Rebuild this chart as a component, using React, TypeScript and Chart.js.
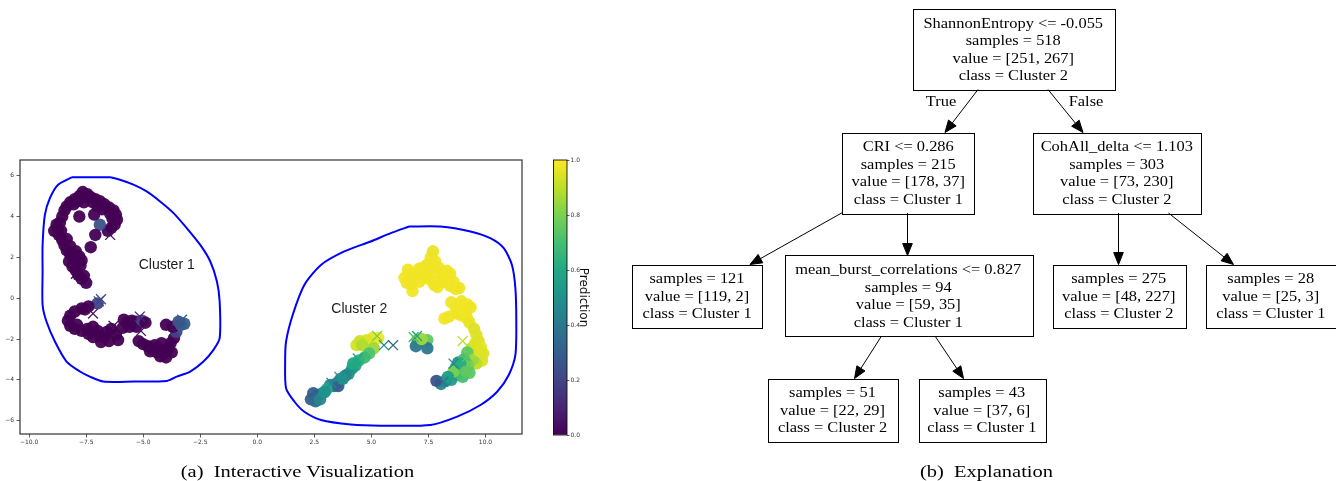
import React, { useEffect, useRef } from "react";
import { Chart, registerables } from "chart.js";
Chart.register(...registerables);

// ---------- scatter axes ----------
const X_TICKS = [-10, -7.5, -5, -2.5, 0, 2.5, 5, 7.5, 10];
const Y_TICKS = [-6, -4, -2, 0, 2, 4, 6];
const CB_TICKS = [0, 0.2, 0.4, 0.6, 0.8, 1.0];

// ---------- scatter data: [x, y, prediction] ----------
const CLUSTER1_CIRCLES = [
  [-8.2, 4.7, 0], [-8.0, 4.85, 0], [-7.8, 5.0, 0], [-7.65, 5.2, 0], [-7.45, 5.1, 0], [-7.3, 4.95, 0],
  [-7.1, 4.85, 0], [-6.9, 4.75, 0], [-6.7, 4.6, 0], [-6.5, 4.45, 0], [-6.3, 4.3, 0], [-6.2, 4.1, 0],
  [-6.15, 3.85, 0], [-6.25, 3.6, 0], [-6.4, 3.45, 0], [-6.55, 3.3, 0], [-7.6, 4.7, 0], [-7.0, 4.5, 0],
  [-8.35, 4.5, 0], [-8.05, 4.6, 0], [-7.9, 4.75, 0], [-7.55, 4.95, 0], [-7.2, 4.7, 0], [-6.8, 4.35, 0],
  [-6.45, 4.15, 0], [-6.35, 3.9, 0],
  [-6.9, 3.6, 0.25], [-7.8, 4.0, 0], [-7.15, 4.1, 0], [-7.1, 3.1, 0], [-7.3, 2.5, 0],
  [-8.45, 4.3, 0], [-8.55, 4.0, 0], [-8.65, 3.7, 0], [-8.75, 3.4, 0], [-8.9, 3.3, 0], [-8.7, 3.1, 0],
  [-8.8, 3.6, 0], [-8.6, 3.3, 0], [-8.35, 2.9, 0], [-8.2, 2.55, 0], [-7.95, 2.3, 0], [-8.05, 1.9, 0],
  [-7.75, 1.6, 0], [-7.6, 1.1, 0],
  [-8.55, 2.85, 0], [-8.45, 2.6, 0], [-8.35, 2.35, 0], [-8.2, 2.15, 0], [-8.0, 2.1, 0], [-7.8, 2.05, 0],
  [-7.7, 1.85, 0], [-8.25, 1.8, 0], [-8.1, 1.55, 0], [-7.95, 1.35, 0], [-7.85, 1.15, 0], [-7.7, 0.95, 0],
  [-7.5, 0.75, 0],
  [-7.0, -0.25, 0.2], [-7.4, -0.4, 0], [-7.7, -0.5, 0], [-8.0, -0.65, 0], [-8.2, -0.85, 0], [-8.3, -1.1, 0],
  [-8.2, -1.35, 0], [-8.0, -1.5, 0], [-7.7, -1.6, 0], [-7.45, -1.5, 0], [-7.2, -1.4, 0], [-7.0, -1.6, 0],
  [-6.9, -1.85, 0], [-6.85, -2.15, 0], [-6.6, -1.65, 0], [-6.4, -1.5, 0], [-6.2, -1.8, 0], [-6.1, -2.05, 0],
  [-7.55, -0.55, 0], [-7.9, -1.3, 0], [-7.4, -1.75, 0], [-7.2, -1.9, 0], [-6.7, -1.9, 0], [-6.5, -2.1, 0],
  [-5.6, -1.4, 0], [-5.3, -1.4, 0],
  [-5.9, -1.45, 0], [-5.85, -1.05, 0], [-5.7, -1.2, 0], [-5.5, -1.1, 0], [-5.3, -1.15, 0], [-5.05, -1.1, 0.2],
  [-4.9, -1.2, 0], [-5.2, -2.1, 0], [-5.0, -2.25, 0], [-4.8, -2.35, 0], [-4.6, -2.5, 0], [-4.4, -2.65, 0],
  [-4.25, -2.85, 0], [-4.05, -2.7, 0], [-3.9, -2.45, 0], [-3.8, -2.2, 0], [-3.65, -1.95, 0], [-3.55, -1.65, 0.2],
  [-3.7, -1.4, 0], [-4.0, -1.3, 0], [-3.35, -1.3, 0.3], [-3.2, -1.25, 0.3], [-3.45, -1.15, 0.25],
  [-4.2, -2.2, 0], [-4.5, -2.3, 0], [-4.7, -2.6, 0], [-4.35, -2.45, 0], [-4.0, -2.9, 0], [-3.75, -2.65, 0],
];
const CLUSTER1_CROSSES = [
  [-6.85, -0.05, 0.25], [-6.95, -0.15, 0.2], [-7.95, 1.2, 0], [-7.2, -0.75, 0.05], [-5.1, -1.6, 0.05],
  [-5.15, -0.9, 0.1], [-3.3, -1.05, 0.3], [-6.45, 3.1, 0.05], [-8.7, 3.55, 0], [-6.3, -1.35, 0],
];
const CLUSTER2_CIRCLES = [
  [6.6, 1.4, 0.98], [6.45, 1.0, 0.98], [6.55, 0.75, 0.98], [6.75, 0.7, 0.98], [6.8, 0.35, 0.98],
  [6.95, 1.2, 0.98], [7.25, 1.5, 0.98], [7.45, 1.65, 0.98], [7.6, 2.0, 0.98], [7.7, 2.3, 0.97],
  [7.8, 1.8, 0.98], [7.5, 1.2, 0.98], [7.35, 1.0, 0.98], [7.6, 0.9, 0.98], [7.75, 0.65, 0.98],
  [7.95, 1.5, 0.98], [8.05, 1.2, 0.98], [8.25, 1.05, 0.98], [8.45, 1.2, 0.98], [8.2, 0.8, 0.98],
  [7.9, 0.55, 0.98], [8.45, 0.6, 0.98], [8.7, 0.45, 0.98], [8.85, 0.5, 0.98],
  [6.7, 1.15, 0.98], [7.1, 0.8, 0.98], [7.3, 1.3, 0.98], [7.6, 1.4, 0.98], [8.0, 0.9, 0.98],
  [8.3, 1.35, 0.98], [8.6, 0.8, 0.98], [7.1, 1.45, 0.98],
  [8.5, -0.2, 0.98], [8.7, -0.45, 0.98], [8.95, -0.15, 0.98], [9.2, -0.3, 0.98], [9.35, -0.45, 0.98],
  [9.15, -0.7, 0.98], [8.95, -0.85, 0.98], [8.2, -1.0, 0.98], [9.2, -1.0, 0.98], [8.75, -0.75, 0.98],
  [8.9, -0.5, 0.98], [9.0, -0.35, 0.98], [8.4, -0.9, 0.98], [9.3, -1.2, 0.97],
  [9.5, -1.5, 0.95], [9.6, -1.8, 0.95], [9.7, -2.1, 0.95], [9.8, -2.4, 0.97], [9.9, -2.7, 0.95],
  [9.85, -3.05, 0.95], [9.6, -3.2, 0.9], [9.4, -2.45, 0.88], [9.2, -2.65, 0.75], [9.45, -3.0, 0.85],
  [9.25, -3.3, 0.8], [9.55, -2.2, 0.95], [9.75, -2.6, 0.95],
  [8.8, -3.15, 0.5], [9.05, -3.0, 0.7], [8.7, -3.4, 0.6], [8.95, -3.5, 0.65], [9.3, -3.65, 0.75],
  [8.75, -3.75, 0.6], [8.5, -4.0, 0.55], [8.25, -4.05, 0.5], [8.05, -4.2, 0.45], [7.85, -4.05, 0.25],
  [9.0, -3.85, 0.7], [8.6, -3.6, 0.8], [9.1, -3.3, 0.78], [8.35, -3.85, 0.55], [8.9, -3.2, 0.62],
  [9.15, -3.6, 0.75],
  [7.0, -2.05, 0.93], [7.45, -2.05, 0.75], [6.95, -2.35, 0.4], [7.45, -2.45, 0.4], [7.2, -2.0, 0.85],
  [5.3, -1.95, 0.98], [5.05, -1.95, 0.97], [4.8, -2.05, 0.95], [4.5, -2.1, 0.92], [4.35, -2.3, 0.93],
  [4.6, -2.3, 0.88], [5.1, -2.45, 0.85], [4.9, -2.7, 0.72], [4.7, -2.9, 0.68], [4.45, -3.05, 0.65],
  [4.3, -3.3, 0.6], [4.15, -3.45, 0.55], [4.0, -3.7, 0.5], [3.85, -3.8, 0.45], [3.65, -3.95, 0.45],
  [3.5, -4.15, 0.4], [3.35, -4.3, 0.35], [3.2, -4.25, 0.45], [3.05, -4.45, 0.6], [2.85, -4.65, 0.55],
  [2.65, -4.75, 0.4], [2.45, -4.65, 0.3], [2.35, -4.95, 0.3], [2.55, -5.05, 0.35], [2.75, -4.95, 0.45],
  [3.55, -4.3, 0.3], [4.2, -3.2, 0.6], [3.75, -3.95, 0.5], [2.95, -4.6, 0.5],
];
const CLUSTER2_CROSSES = [
  [5.55, -2.3, 0.5], [5.95, -2.3, 0.35], [6.85, -1.9, 0.7], [7.0, -1.85, 0.55], [8.6, -3.2, 0.45],
  [9.2, -2.85, 0.75], [3.25, -4.15, 0.45], [3.6, -3.85, 0.5], [4.4, -2.95, 0.6], [8.15, -4.1, 0.4],
  [9.0, -2.1, 0.9], [5.25, -1.85, 0.8],
];
const BOUNDARY_1 = [
  [-8.14, 5.92], [-6.46, 5.92], [-6.02, 5.8], [-5.43, 5.56], [-4.85, 5.23], [-4.26, 4.74], [-3.67, 4.17],
  [-3.09, 3.43], [-2.5, 2.61], [-2.06, 1.8], [-1.77, 0.82], [-1.65, -0.16], [-1.65, -1.96], [-1.92, -2.53],
  [-2.36, -3.1], [-2.94, -3.59], [-3.53, -3.84], [-3.97, -4.05], [-5.43, -4.08], [-6.75, -4.08],
  [-7.34, -3.84], [-7.77, -3.59], [-8.36, -3.1], [-8.87, -2.12], [-9.24, -1.14], [-9.41, -0.33],
  [-9.41, 1.31], [-9.41, 2.61], [-9.31, 4.08], [-9.09, 4.9], [-8.73, 5.56], [-8.14, 5.92],
];
const BOUNDARY_2 = [
  [6.65, 3.51], [8.03, 3.51], [9.34, 3.27], [10.21, 2.94], [10.8, 2.45], [11.16, 1.63], [11.31, 0.49],
  [11.35, -1.14], [11.31, -2.78], [11.02, -3.76], [10.51, -4.58], [9.78, -5.23], [8.76, -5.8],
  [7.59, -6.21], [5.41, -6.24], [4.1, -6.18], [2.79, -5.96], [2.06, -5.56], [1.63, -5.07], [1.26, -4.41],
  [1.22, -3.1], [1.26, -2.12], [1.55, -0.82], [2.06, 0.65], [2.79, 1.63], [3.81, 2.29], [4.97, 2.78],
  [5.85, 3.19], [6.65, 3.51],
];
const CLUSTER_LABELS = ["Cluster 1", "Cluster 2"];
const CLUSTER_LABEL_POS = [[-3.97, 1.63], [4.47, -0.52]];

// ---------- decision tree ----------
const TREE_FEATURES = ["ShannonEntropy <= -0.055", "CRI <= 0.286", "CohAll_delta <= 1.103", "", "mean_burst_correlations <= 0.827", "", "", "", ""];
const TREE_SAMPLES = [518, 215, 303, 121, 94, 275, 28, 51, 43];
const TREE_VALUES = [[251, 267], [178, 37], [73, 230], [119, 2], [59, 35], [48, 227], [25, 3], [22, 29], [37, 6]];
const TREE_CLASSES = ["Cluster 2", "Cluster 1", "Cluster 2", "Cluster 1", "Cluster 1", "Cluster 2", "Cluster 1", "Cluster 2", "Cluster 1"];
const TREE_PARENT = [-1, 0, 0, 1, 1, 2, 2, 4, 4];
const EDGE_LABELS = ["", "True", "False", "", "", "", "", "", ""];

// graphviz layout (figure units): node box [left, top, right, bottom], edge [x0, y0, x1, y1]
const NODE_BOX = [
  [912.5, 9, 1114, 89.5], [842.5, 132.5, 974, 213], [1033, 132.5, 1200.5, 213],
  [632, 264.5, 762, 327.5], [784.5, 255.5, 1032, 336], [1052.5, 264.5, 1185, 327.5],
  [1206, 264.5, 1335.5, 327.5], [767.5, 378.5, 897.5, 441.5], [918.5, 378.5, 1045, 441.5],
];
const EDGE_PATH = [
  null, [978, 89.5, 945, 132.5], [1048, 89.5, 1083, 132.5], [842.5, 212.5, 750, 264.5],
  [907.5, 213, 907.5, 255.5], [1118.5, 213, 1118.5, 264.5], [1168.5, 213, 1233.5, 264.5],
  [881.5, 336, 854.5, 378.5], [935, 336, 963.5, 378.5],
];
const EDGE_LABEL_POS = [null, [941, 102], [1086, 102], null, null, null, null, null, null];

const VIRIDIS = ["#440154", "#482475", "#414487", "#355f8d", "#2a788e", "#21918c", "#22a884", "#44bf70", "#7ad151", "#bddf26", "#fde725"];

function hexRgb(h: string) {
  return [parseInt(h.slice(1, 3), 16), parseInt(h.slice(3, 5), 16), parseInt(h.slice(5, 7), 16)];
}
function viridis(t: number, a = 1) {
  const n = VIRIDIS.length - 1;
  const v = Math.max(0, Math.min(1, t)) * n;
  const i = Math.min(n - 1, Math.floor(v));
  const f = v - i;
  const c0 = hexRgb(VIRIDIS[i]);
  const c1 = hexRgb(VIRIDIS[i + 1]);
  const c = c0.map((c, k) => Math.round(c + (c1[k] - c) * f));
  return `rgba(${c[0]},${c[1]},${c[2]},${a})`;
}
const fmtTick = (v: number, d: number) => (v < 0 ? "\u2212" : "") + Math.abs(v).toFixed(d);

const TICK_FONT = { family: "DejaVu Sans", size: 6 };

function drawScaledText(ctx: CanvasRenderingContext2D, text: string, x: number, y: number, sx: number) {
  ctx.save();
  ctx.translate(x, y);
  ctx.scale(sx, 1);
  ctx.fillText(text, 0, 0);
  ctx.restore();
}

export default function App() {
  const scatterRef = useRef<HTMLCanvasElement>(null);
  const cbRef = useRef<HTMLCanvasElement>(null);
  const treeRef = useRef<HTMLCanvasElement>(null);

  useEffect(() => {
    const circles = [...CLUSTER1_CIRCLES, ...CLUSTER2_CIRCLES];
    const crosses = [...CLUSTER1_CROSSES, ...CLUSTER2_CROSSES];

    const framePlugin = {
      id: "frame",
      afterDraw(chart: any) {
        const { ctx, chartArea: a } = chart;
        ctx.save();
        ctx.strokeStyle = "#333";
        ctx.lineWidth = 1.2;
        ctx.strokeRect(a.left, a.top, a.right - a.left, a.bottom - a.top);
        ctx.restore();
      },
    };
    const labelPlugin = {
      id: "clusterLabels",
      afterDatasetsDraw(chart: any) {
        const { ctx, scales } = chart;
        ctx.save();
        ctx.fillStyle = "#1a1a1a";
        ctx.font = "14px 'Liberation Sans', Arial, sans-serif";
        ctx.textAlign = "center";
        ctx.textBaseline = "middle";
        CLUSTER_LABELS.forEach((t, i) => {
          ctx.fillText(t, scales.x.getPixelForValue(CLUSTER_LABEL_POS[i][0]), scales.y.getPixelForValue(CLUSTER_LABEL_POS[i][1]));
        });
        ctx.restore();
      },
      afterDraw(chart: any) {
        const { ctx } = chart;
        ctx.save();
        ctx.fillStyle = "#000";
        ctx.font = "17.5px 'Liberation Serif', 'Times New Roman', serif";
        ctx.textAlign = "center";
        ctx.textBaseline = "alphabetic";
        drawScaledText(ctx, "(a)  Interactive Visualization", 297.5, 477, 1.17);
        ctx.restore();
      },
    };

    const scatter = new Chart(scatterRef.current!, {
      type: "scatter",
      data: {
        datasets: [
          {
            data: crosses.map(([x, y]) => ({ x, y })),
            pointStyle: "crossRot",
            pointRadius: 7,
            pointBorderWidth: 1.3,
            pointBorderColor: crosses.map((p) => viridis(p[2])),
            pointBackgroundColor: "rgba(0,0,0,0)",
            showLine: false,
          } as any,
          {
            data: circles.map(([x, y]) => ({ x, y })),
            pointRadius: 6.2,
            pointBorderWidth: 0,
            pointBackgroundColor: circles.map((p) => viridis(p[2], 0.95)),
            showLine: false,
          },
          {
            data: BOUNDARY_1.map(([x, y]) => ({ x, y })),
            showLine: true,
            borderColor: "#0000ff",
            borderWidth: 2,
            pointRadius: 0,
            tension: 0.25,
            fill: false,
          },
          {
            data: BOUNDARY_2.map(([x, y]) => ({ x, y })),
            showLine: true,
            borderColor: "#0000ff",
            borderWidth: 2,
            pointRadius: 0,
            tension: 0.25,
            fill: false,
          },
        ],
      },
      options: {
        animation: false,
        responsive: false,
        events: [],
        layout: { padding: { top: 160, right: 78, left: 0, bottom: 0 } },
        plugins: { legend: { display: false }, tooltip: { enabled: false } },
        scales: {
          x: {
            type: "linear",
            min: -10.4,
            max: 11.6,
            afterBuildTicks: (s: any) => { s.ticks = X_TICKS.map((v) => ({ value: v })); },
            afterFit: (s: any) => { s.height = 47; },
            ticks: { font: TICK_FONT, color: "#333", padding: 1, maxRotation: 0, autoSkip: false, callback: (v: any) => fmtTick(v, 1) },
            grid: { drawOnChartArea: false, drawTicks: true, tickLength: 3.5, tickColor: "#333", tickWidth: 0.8 },
            border: { display: false },
          },
          y: {
            type: "linear",
            min: -6.65,
            max: 6.77,
            afterBuildTicks: (s: any) => { s.ticks = Y_TICKS.map((v) => ({ value: v })); },
            afterFit: (s: any) => { s.width = 20; },
            ticks: { font: TICK_FONT, color: "#333", padding: 2.5, autoSkip: false, callback: (v: any) => fmtTick(v, 0) },
            grid: { drawOnChartArea: false, drawTicks: true, tickLength: 3.5, tickColor: "#333", tickWidth: 0.8 },
            border: { display: false },
          },
        },
      } as any,
      plugins: [framePlugin, labelPlugin],
    });

    const cbFrame = {
      id: "cbFrame",
      afterDraw(chart: any) {
        const { ctx, chartArea: a } = chart;
        ctx.save();
        ctx.strokeStyle = "#111";
        ctx.lineWidth = 0.9;
        ctx.strokeRect(a.left + 0.5, a.top, a.right - a.left - 0.5, a.bottom - a.top);
        ctx.restore();
      },
    };
    const colorbar = new Chart(cbRef.current!, {
      type: "bar",
      data: {
        labels: ["Prediction"],
        datasets: [
          {
            data: [[0, 1]] as any,
            backgroundColor: (c: any) => {
              const ch = c.chart;
              const a = ch.chartArea;
              if (!a) return VIRIDIS[5];
              const g = ch.ctx.createLinearGradient(0, a.bottom, 0, a.top);
              VIRIDIS.forEach((col, i) => g.addColorStop(i / (VIRIDIS.length - 1), col));
              return g;
            },
            borderWidth: 0,
            barPercentage: 1,
            categoryPercentage: 1,
          },
        ],
      },
      options: {
        animation: false,
        responsive: false,
        events: [],
        layout: { padding: { top: 160, bottom: 46, left: 0, right: 0 } },
        plugins: { legend: { display: false }, tooltip: { enabled: false } },
        scales: {
          x: { display: false },
          y: {
            position: "right",
            min: 0,
            max: 1,
            afterBuildTicks: (s: any) => { s.ticks = CB_TICKS.map((v) => ({ value: v })); },
            afterFit: (s: any) => { s.width = 23; },
            ticks: { font: TICK_FONT, color: "#333", padding: 1, autoSkip: false, callback: (v: any) => fmtTick(v, 1) },
            grid: { drawOnChartArea: false, drawTicks: true, tickLength: 2.5, tickColor: "#333", tickWidth: 0.8 },
            border: { display: false },
            title: { display: true, text: "Prediction", color: "#111", padding: 0, font: { family: "DejaVu Sans", size: 12 } },
          },
        },
      } as any,
      plugins: [cbFrame],
    });

    const treePlugin = {
      id: "tree",
      afterDraw(chart: any) {
        const { ctx, scales } = chart;
        const X = (v: number) => scales.x.getPixelForValue(v);
        const Y = (v: number) => scales.y.getPixelForValue(v);
        ctx.save();
        ctx.strokeStyle = "#000";
        ctx.fillStyle = "#000";
        ctx.lineWidth = 1;
        // edges
        TREE_PARENT.forEach((p, i) => {
          if (p < 0) return;
          const [x0, y0, x1, y1] = EDGE_PATH[i] as number[];
          const px0 = X(x0), py0 = Y(y0), px1 = X(x1), py1 = Y(y1);
          const dx = px1 - px0, dy = py1 - py0;
          const len = Math.hypot(dx, dy);
          const ux = dx / len, uy = dy / len;
          const al = 12, aw = 4.8;
          const bx = px1 - ux * al, by = py1 - uy * al;
          ctx.beginPath();
          ctx.moveTo(px0, py0);
          ctx.lineTo(bx, by);
          ctx.stroke();
          ctx.beginPath();
          ctx.moveTo(px1, py1);
          ctx.lineTo(bx - uy * aw, by + ux * aw);
          ctx.lineTo(bx + uy * aw, by - ux * aw);
          ctx.closePath();
          ctx.fill();
          ctx.stroke();
        });
        // nodes
        ctx.font = "15.5px 'Liberation Serif', 'Times New Roman', serif";
        ctx.textAlign = "center";
        ctx.textBaseline = "middle";
        TREE_SAMPLES.forEach((s, i) => {
          const [l, t, r, b] = NODE_BOX[i];
          const L = X(l), T = Y(t), R = X(r), B = Y(b);
          ctx.lineWidth = 1;
          ctx.strokeRect(Math.round(L) + 0.5, Math.round(T) + 0.5, Math.round(R - L), Math.round(B - T));
          const lines: string[] = [];
          if (TREE_FEATURES[i]) lines.push(TREE_FEATURES[i]);
          lines.push(`samples = ${s}`);
          lines.push(`value = [${TREE_VALUES[i][0]}, ${TREE_VALUES[i][1]}]`);
          lines.push(`class = ${TREE_CLASSES[i]}`);
          const cx = (L + R) / 2;
          lines.forEach((ln, k) => drawScaledText(ctx, ln, cx, T + 14.8 + k * 17.5, 1.06));
          if (EDGE_LABELS[i]) {
            const [ex, ey] = EDGE_LABEL_POS[i] as number[];
            drawScaledText(ctx, EDGE_LABELS[i], X(ex), Y(ey), 1.06);
          }
        });
        // caption
        ctx.font = "17.5px 'Liberation Serif', 'Times New Roman', serif";
        ctx.textBaseline = "alphabetic";
        drawScaledText(ctx, "(b)  Explanation", X(986.5), Y(477), 1.17);
        ctx.restore();
      },
    };
    const tree = new Chart(treeRef.current!, {
      type: "scatter",
      data: { datasets: [] },
      options: {
        animation: false,
        responsive: false,
        events: [],
        layout: { padding: 0 },
        plugins: { legend: { display: false }, tooltip: { enabled: false } },
        scales: {
          x: { type: "linear", min: 600, max: 1336, display: false },
          y: { type: "linear", min: 0, max: 481, reverse: true, display: false },
        },
      } as any,
      plugins: [treePlugin],
    });

    return () => {
      scatter.destroy();
      colorbar.destroy();
      tree.destroy();
    };
  }, []);

  return (
    <div style={{ position: "fixed", left: 0, top: 0, width: 1336, height: 481, background: "#fff", overflow: "hidden" }}>
      <canvas ref={scatterRef} width={600} height={481} style={{ position: "absolute", left: 0, top: 0, width: 600, height: 481 }} />
      <canvas ref={cbRef} width={37} height={481} style={{ position: "absolute", left: 553, top: 0, width: 37, height: 481 }} />
      <canvas ref={treeRef} width={736} height={481} style={{ position: "absolute", left: 600, top: 0, width: 736, height: 481 }} />
    </div>
  );
}
